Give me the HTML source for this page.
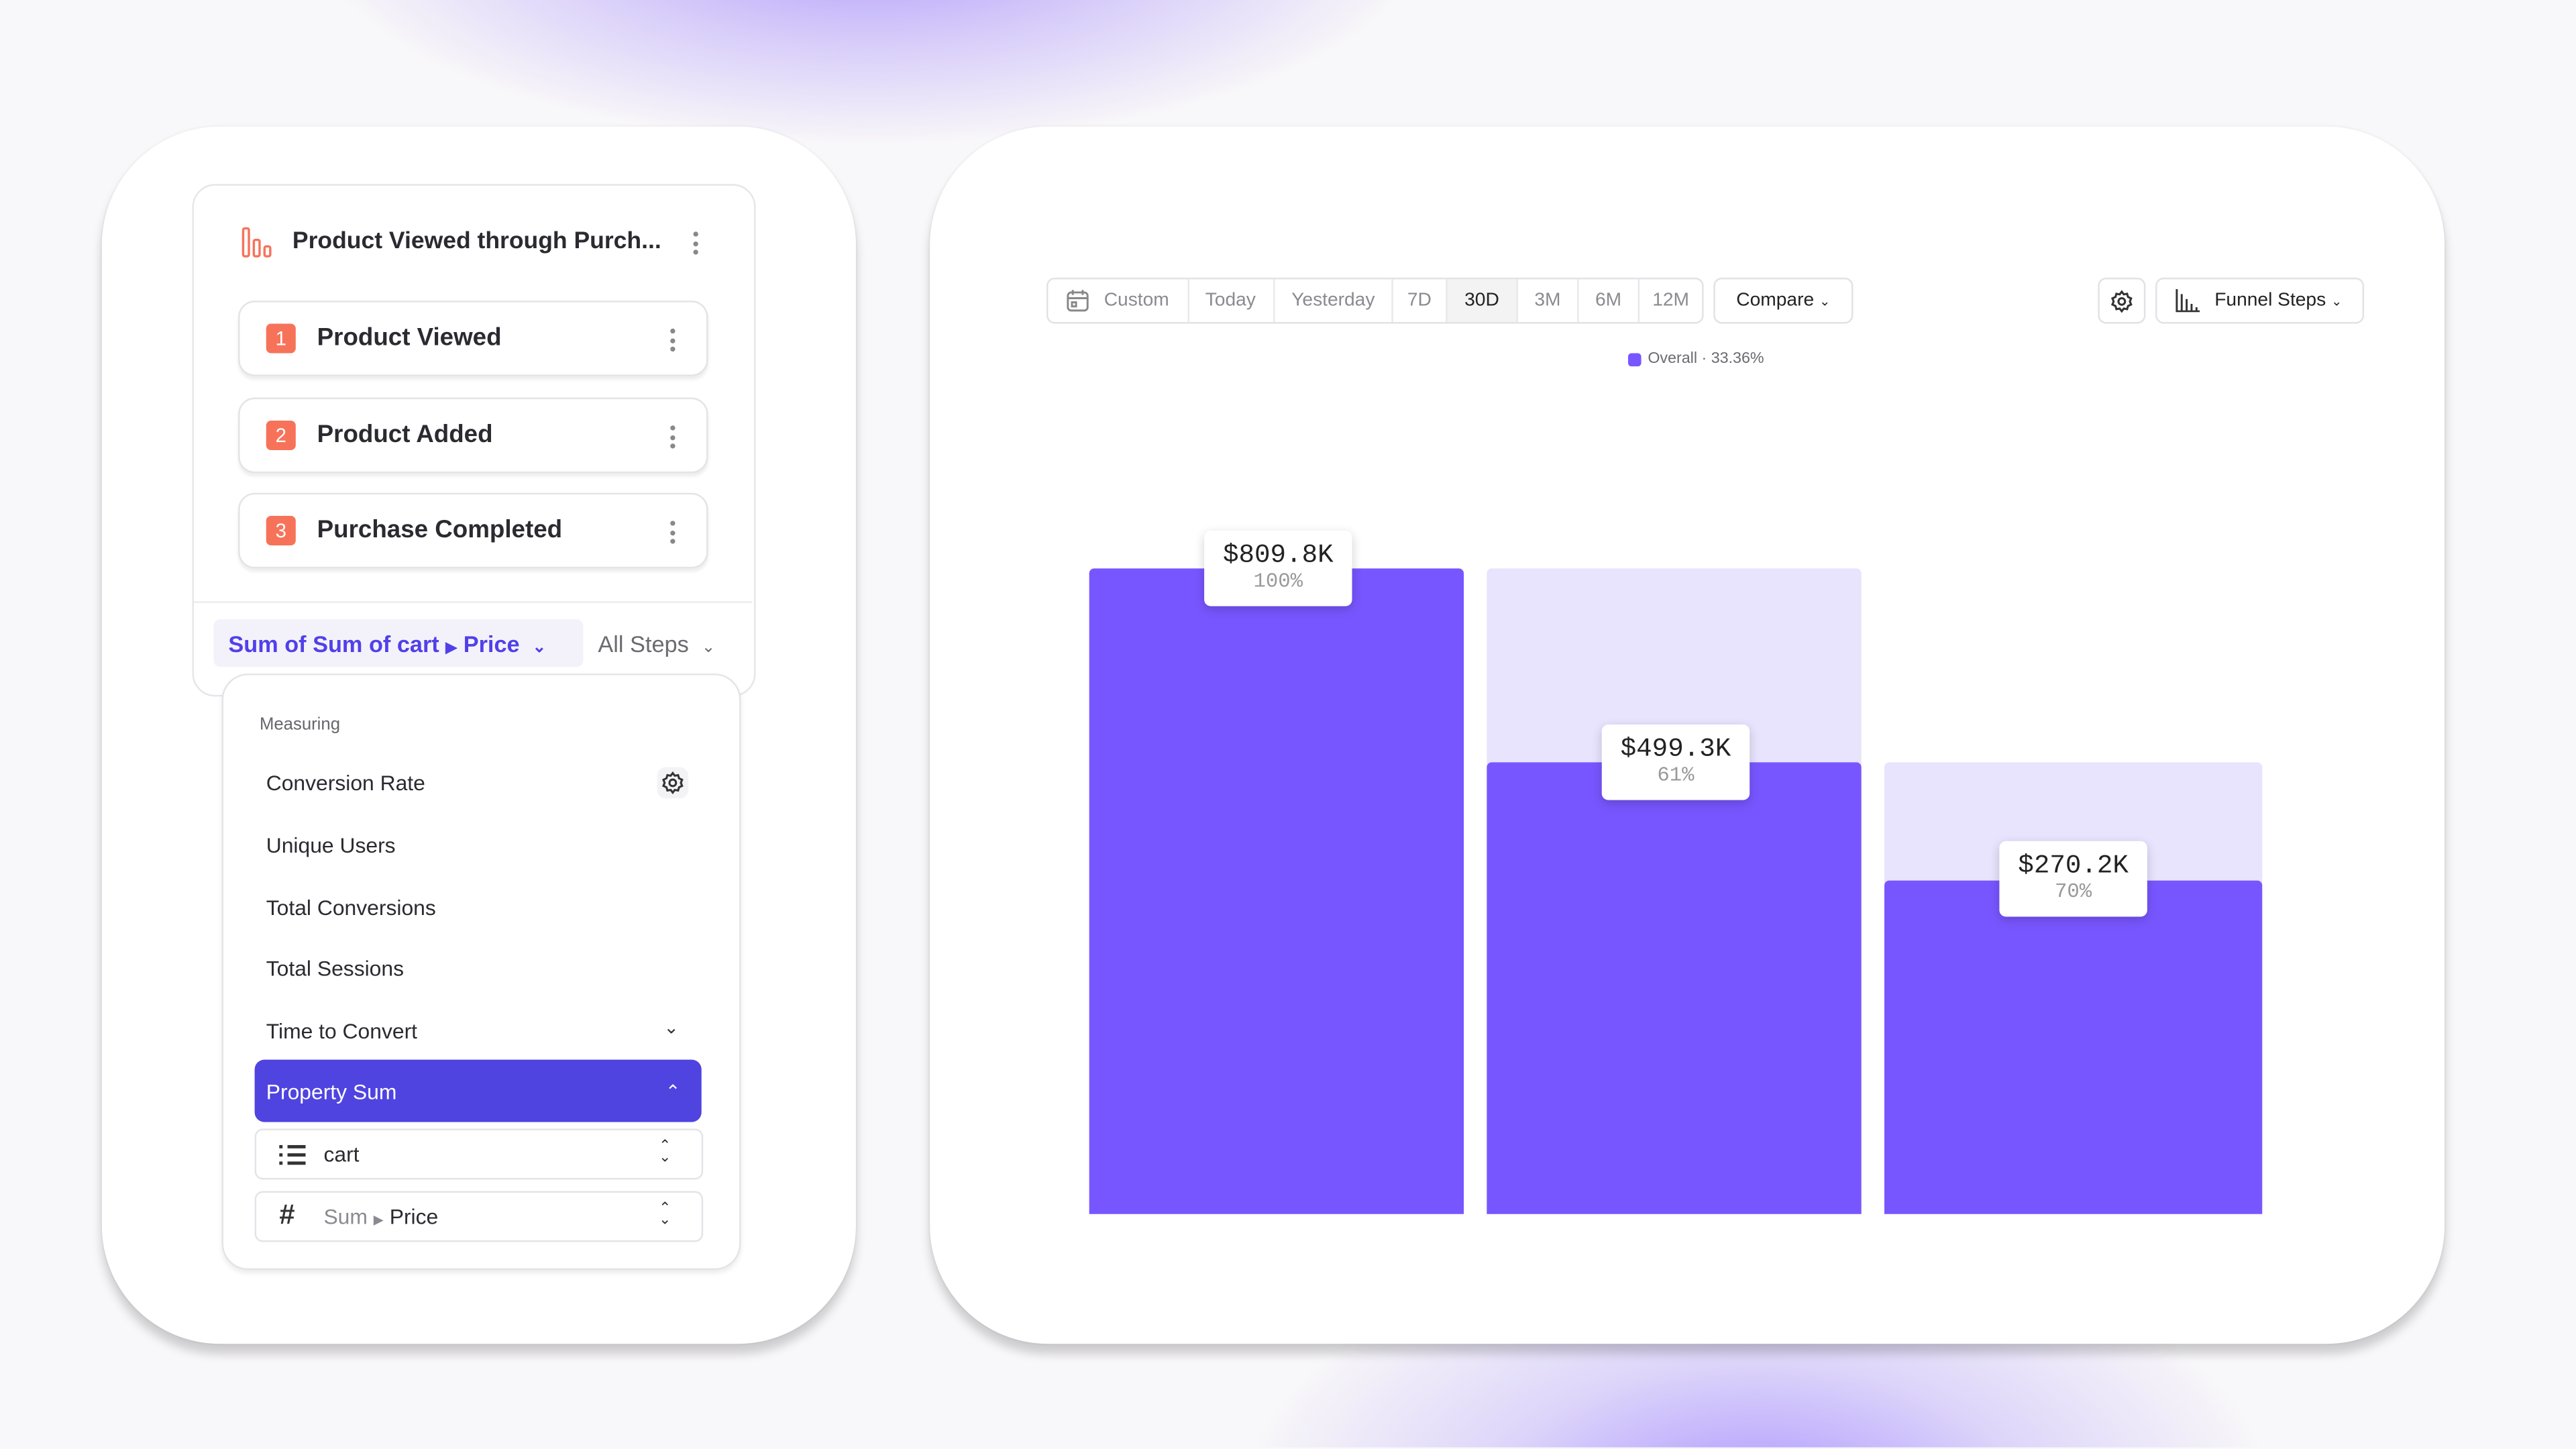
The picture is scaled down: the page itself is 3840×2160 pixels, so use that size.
<!DOCTYPE html>
<html><head><meta charset="utf-8">
<style>
html,body{margin:0;padding:0;width:3840px;height:2160px;overflow:hidden;background:#f8f7f9;}
#wrap{position:absolute;left:0;top:0;width:3840px;height:2160px;overflow:hidden;}
#s{position:absolute;left:0;top:0;width:1568px;height:881px;overflow:hidden;transform:scale(2.44898);transform-origin:0 0;font-family:"Liberation Sans",sans-serif;color:#28282e;}
.abs{position:absolute;}
.glow1{left:30px;top:0;width:1000px;height:200px;background:radial-gradient(ellipse 450px 170px at 50% -40px,rgba(160,135,250,.85) 0%,rgba(185,165,250,.5) 40%,rgba(248,247,249,0) 75%);}
.glow2{left:550px;top:690px;width:1000px;height:191px;background:radial-gradient(ellipse 420px 230px at 52% 230px,rgba(165,140,255,.95) 0%,rgba(195,180,250,.5) 40%,rgba(248,247,249,0) 75%);}
.card{background:#fff;border-radius:72px;box-shadow:0 6px 6px rgba(0,0,0,.18),0 0 2px rgba(0,0,0,.08);}
.panel{border:1px solid #e6e6ea;border-radius:14px;background:#fff;}
.step{left:145px;width:284px;height:44px;border:1px solid #e4e4e8;border-radius:10px;box-shadow:0 2px 2px rgba(0,0,0,.07);background:#fff;}
.badge{left:16px;top:13px;width:18px;height:18px;border-radius:3px;background:#f6735a;color:#fff;font-size:12px;line-height:18px;text-align:center;}
.stxt{left:47px;top:13px;font-size:15px;font-weight:bold;color:#2a2a30;}
.dots{width:3px;}
.dots i{display:block;width:3px;height:3px;border-radius:50%;background:#888;margin-bottom:2.5px;}
.mi{left:162px;font-size:13px;color:#2a2a30;}
.tb{top:169px;height:26px;border:1px solid #e2e2e6;border-radius:5px;background:#fff;font-size:11.5px;color:#8a8a90;}
.seg{position:absolute;top:0;height:26px;line-height:26px;text-align:center;border-right:1px solid #e8e8ec;}
.bar{background:#7856ff;border-radius:3px 3px 0 0;}
.lbar{background:#e8e4fe;border-radius:3px 3px 0 0;}
.lab{width:90px;height:46px;background:#fff;border-radius:4px;box-shadow:0 2px 6px rgba(0,0,0,.18);text-align:center;font-family:"Liberation Mono",monospace;}
.lab b{display:block;font-weight:normal;font-size:16px;color:#222;margin-top:6px;line-height:18px;}
.lab span{display:block;font-size:12.5px;color:#999;line-height:15px;}
</style></head><body>
<div id="wrap">
<div id="s">
<div class="abs glow1"></div>
<div class="abs glow2"></div>

<div class="abs card" style="left:62px;top:77px;width:459px;height:741px;"></div>
<div class="abs card" style="left:566px;top:77px;width:922px;height:741px;"></div>

<div class="abs panel" style="left:117px;top:112px;width:341px;height:310px;"></div>
<svg class="abs" style="left:147px;top:138px" width="20" height="19"><g fill="none" stroke="#f6735a" stroke-width="1.4"><rect x="1" y="1" width="3.5" height="17" rx="1"/><rect x="7.5" y="8" width="3.5" height="10" rx="1"/><rect x="14" y="12" width="3.5" height="6" rx="1"/></g></svg>
<div class="abs" style="left:178px;top:139px;font-size:14.5px;font-weight:bold;color:#2a2a30;">Product Viewed through Purch...</div>
<div class="abs dots" style="left:422px;top:141px"><i></i><i></i><i></i></div>

<div class="abs step" style="top:183px"><div class="abs badge">1</div><div class="abs stxt">Product Viewed</div><div class="abs dots" style="left:262px;top:16px"><i></i><i></i><i></i></div></div>
<div class="abs step" style="top:242px"><div class="abs badge">2</div><div class="abs stxt">Product Added</div><div class="abs dots" style="left:262px;top:16px"><i></i><i></i><i></i></div></div>
<div class="abs step" style="top:300px"><div class="abs badge">3</div><div class="abs stxt">Purchase Completed</div><div class="abs dots" style="left:262px;top:16px"><i></i><i></i><i></i></div></div>

<div class="abs" style="left:118px;top:366px;width:340px;height:1px;background:#ececef"></div>
<div class="abs" style="left:130px;top:377px;width:225px;height:29px;background:#f3f2fb;border-radius:4px;"></div>
<div class="abs" style="left:139px;top:384px;font-size:14px;font-weight:bold;color:#5140e8;">Sum of Sum of cart <span style="font-size:9px">&#9654;</span> Price &nbsp;<span style="font-size:10px">&#8964;</span></div>
<div class="abs" style="left:364px;top:384px;font-size:14px;color:#6a6a70;">All Steps &nbsp;<span style="font-size:10px">&#8964;</span></div>

<div class="abs" style="left:135px;top:410px;width:314px;height:361px;background:#fff;border:1px solid #e4e4e8;border-radius:16px;box-shadow:0 2px 3px rgba(0,0,0,.08);"></div>
<div class="abs" style="left:158px;top:435px;font-size:10.5px;color:#66666c;">Measuring</div>
<div class="abs mi" style="top:469px">Conversion Rate</div>
<div class="abs" style="left:400px;top:467px;width:19px;height:19px;border-radius:5px;background:#f3f3f7;"></div>
<svg class="abs" style="left:402px;top:469px" width="15" height="15" viewBox="0 0 24 24"><g fill="none" stroke="#333" stroke-width="2"><circle cx="12" cy="12" r="3.2"/><path d="M12 2.5l2 2.6 3.2-.6.9 3.1 3 1.4-1.2 3 1.2 3-3 1.4-.9 3.1-3.2-.6-2 2.6-2-2.6-3.2.6-.9-3.1-3-1.4 1.2-3-1.2-3 3-1.4.9-3.1 3.2.6z"/></g></svg>
<div class="abs mi" style="top:507px">Unique Users</div>
<div class="abs mi" style="top:545px">Total Conversions</div>
<div class="abs mi" style="top:582px">Total Sessions</div>
<div class="abs mi" style="top:620px">Time to Convert</div>
<div class="abs" style="left:404px;top:619px;font-size:11px;color:#333">&#8964;</div>
<div class="abs" style="left:155px;top:645px;width:272px;height:38px;background:#4f44e0;border-radius:6px;"></div>
<div class="abs" style="left:162px;top:657px;font-size:13px;color:#fff;">Property Sum</div>
<div class="abs" style="left:405px;top:657px;font-size:11px;color:#fff;transform:rotate(180deg)">&#8964;</div>
<div class="abs" style="left:155px;top:687px;width:271px;height:29px;border:1px solid #e4e4e8;border-radius:5px;"></div>
<div class="abs" style="left:170px;top:697px;width:2px;height:2px;background:#333;box-shadow:0 5px 0 #333,0 10px 0 #333"></div>
<div class="abs" style="left:175px;top:697px;width:11px;height:1.5px;background:#333;box-shadow:0 5px 0 #333,0 10px 0 #333"></div>
<div class="abs" style="left:197px;top:695px;font-size:13px;color:#2a2a30;">cart</div>
<div class="abs" style="left:401px;top:694px;font-size:9px;line-height:7px;color:#333">&#8963;<br>&#8964;</div>
<div class="abs" style="left:155px;top:725px;width:271px;height:29px;border:1px solid #e4e4e8;border-radius:5px;"></div>
<div class="abs" style="left:170px;top:730px;font-size:17px;color:#333;font-weight:bold">#</div>
<div class="abs" style="left:197px;top:733px;font-size:13px;color:#8a8a90;">Sum <span style="font-size:8px">&#9654;</span> <span style="color:#2a2a30">Price</span></div>
<div class="abs" style="left:401px;top:732px;font-size:9px;line-height:7px;color:#333">&#8963;<br>&#8964;</div>

<div class="abs tb" style="left:637px;width:398px;">
 <div class="seg" style="left:0;width:85px;"><svg style="position:absolute;left:11px;top:6px" width="14" height="14"><g fill="none" stroke="#888" stroke-width="1.2"><rect x="1" y="2" width="12" height="11" rx="2"/><path d="M1 5.5h12M4 0.5v3M10 0.5v3"/><rect x="3.5" y="8" width="2.5" height="2.5"/></g></svg><span style="position:absolute;left:34px">Custom</span></div>
 <div class="seg" style="left:85px;width:52px;">Today</div>
 <div class="seg" style="left:138px;width:71px;">Yesterday</div>
 <div class="seg" style="left:210px;width:32px;">7D</div>
 <div class="seg" style="left:243px;width:42px;background:#f3f3f4;color:#222;">30D</div>
 <div class="seg" style="left:286px;width:36px;">3M</div>
 <div class="seg" style="left:323px;width:36px;">6M</div>
 <div class="seg" style="left:360px;width:38px;border-right:none">12M</div>
</div>
<div class="abs tb" style="left:1043px;width:83px;color:#222;line-height:26px;text-align:center;">Compare <span style="font-size:8px">&#8964;</span></div>
<div class="abs tb" style="left:1277px;width:27px;"><svg style="position:absolute;left:6px;top:6px" width="15" height="15" viewBox="0 0 24 24"><g fill="none" stroke="#333" stroke-width="2"><circle cx="12" cy="12" r="3.2"/><path d="M12 2.5l2 2.6 3.2-.6.9 3.1 3 1.4-1.2 3 1.2 3-3 1.4-.9 3.1-3.2-.6-2 2.6-2-2.6-3.2.6-.9-3.1-3-1.4 1.2-3-1.2-3 3-1.4.9-3.1 3.2.6z"/></g></svg></div>
<div class="abs tb" style="left:1312px;width:125px;color:#222;line-height:26px;"><svg style="position:absolute;left:11px;top:6px" width="15" height="14"><g fill="none" stroke="#333" stroke-width="1.2"><path d="M1 0v13.5h14"/><path d="M4 3v10M7 6v7M10 9v4M13 11v2"/></g></svg><span style="position:absolute;left:35px">Funnel Steps <span style="font-size:8px">&#8964;</span></span></div>

<div class="abs" style="left:991px;top:215px;width:8px;height:8px;border-radius:2px;background:#7856ff"></div>
<div class="abs" style="left:1003px;top:213px;font-size:9.5px;color:#6a6a70;">Overall · 33.36%</div>

<div class="abs bar" style="left:663px;top:346px;width:228px;height:393px;"></div>
<div class="abs lbar" style="left:905px;top:346px;width:228px;height:120px;"></div>
<div class="abs bar" style="left:905px;top:464px;width:228px;height:275px;"></div>
<div class="abs lbar" style="left:1147px;top:464px;width:230px;height:74px;"></div>
<div class="abs bar" style="left:1147px;top:536px;width:230px;height:203px;"></div>

<div class="abs lab" style="left:733px;top:323px;"><b>$809.8K</b><span>100%</span></div>
<div class="abs lab" style="left:975px;top:441px;"><b>$499.3K</b><span>61%</span></div>
<div class="abs lab" style="left:1217px;top:512px;"><b>$270.2K</b><span>70%</span></div>
</div>
</div>
</body></html>
